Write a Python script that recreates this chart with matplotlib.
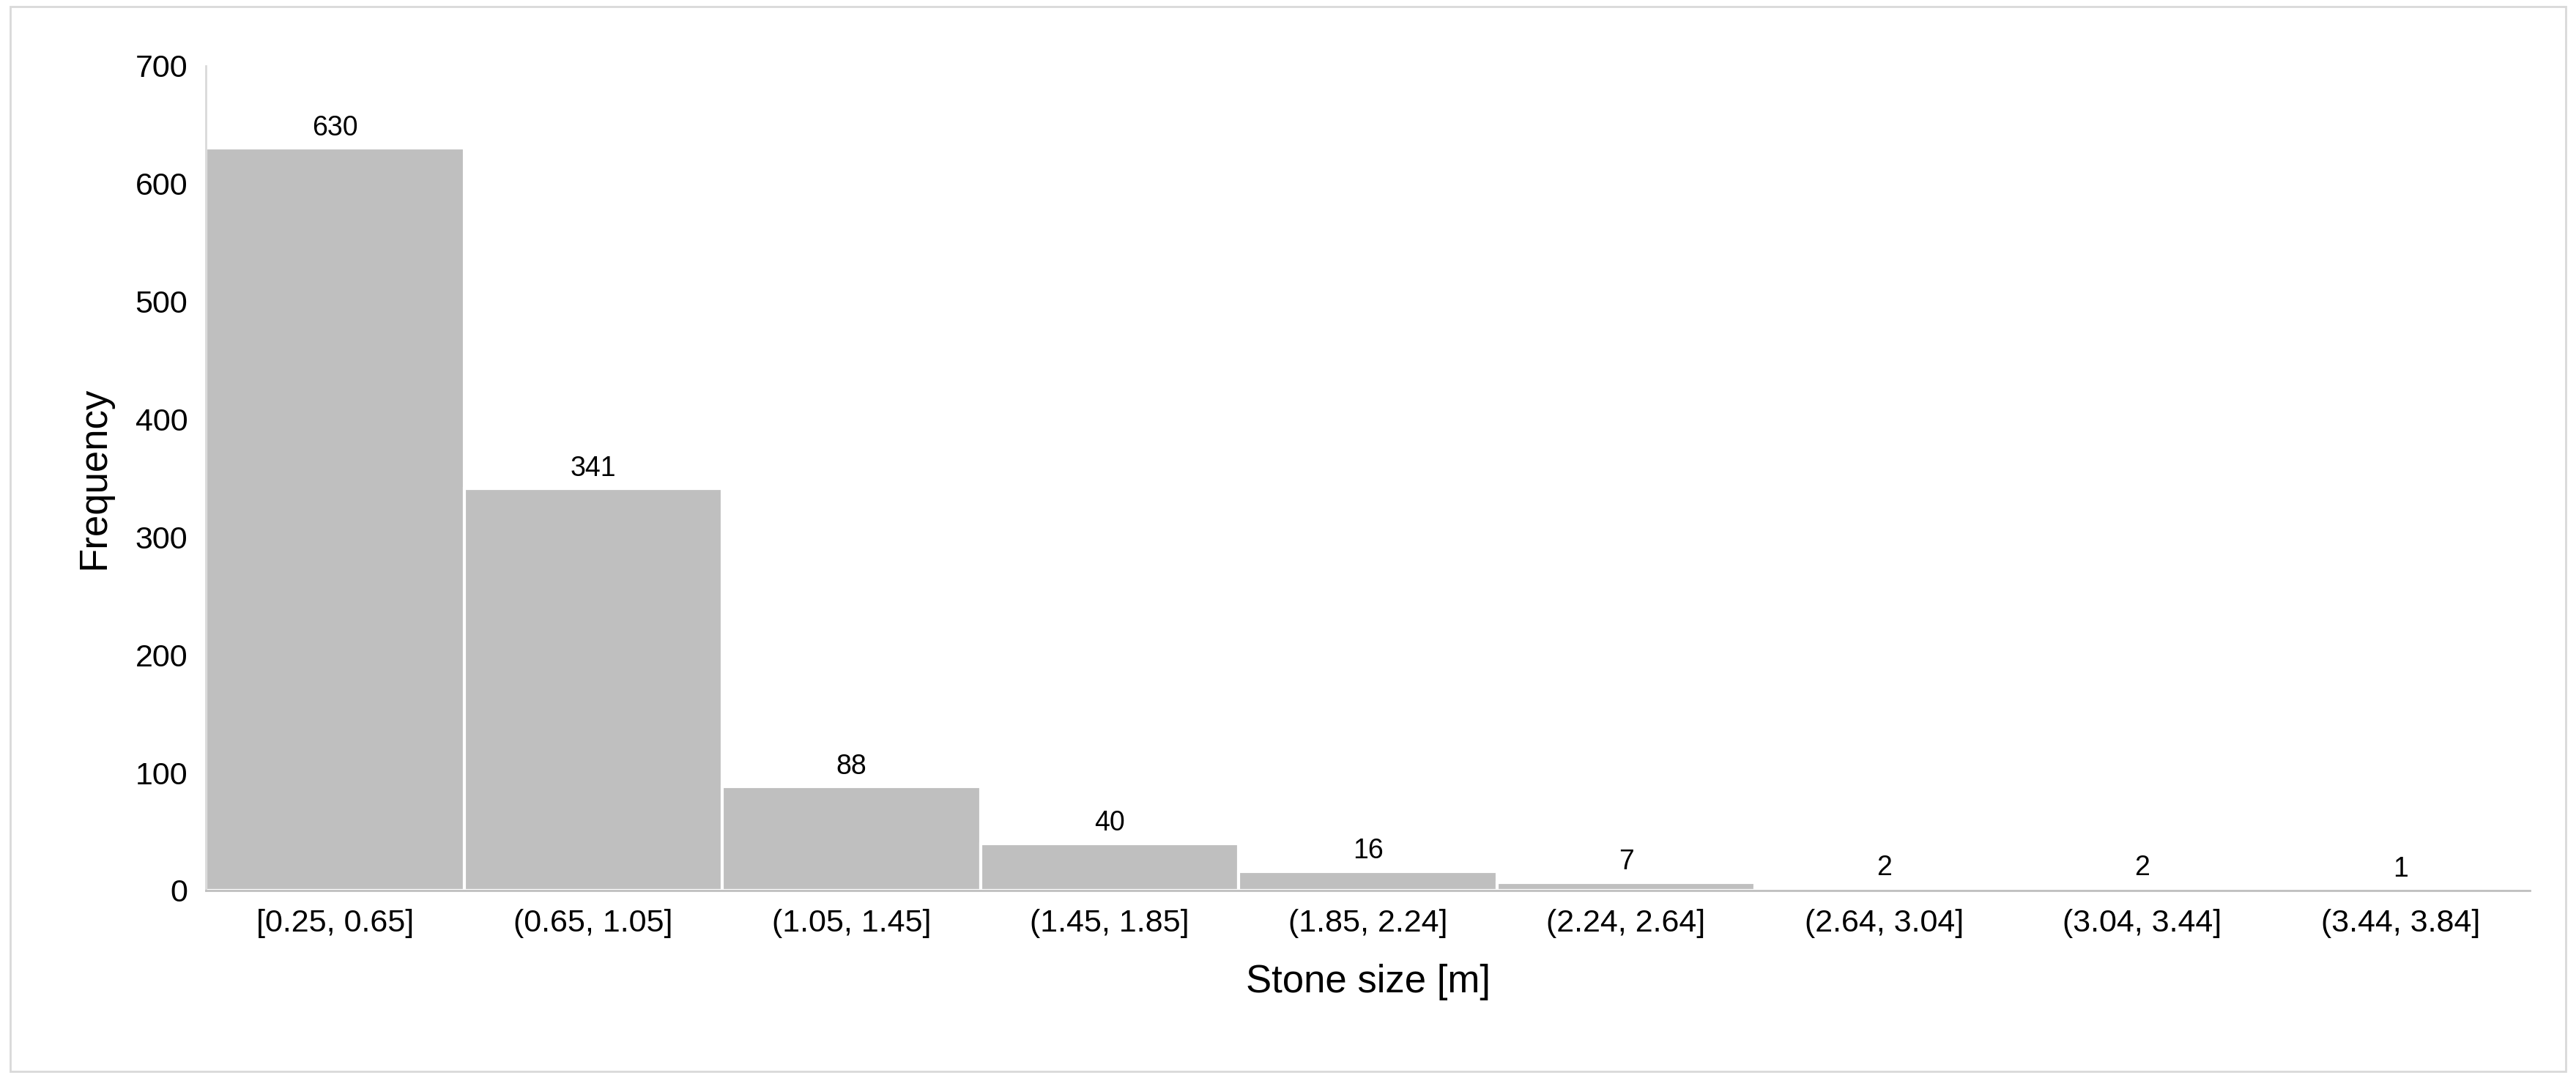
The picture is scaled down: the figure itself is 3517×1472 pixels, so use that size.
import matplotlib
matplotlib.use("Agg")
import matplotlib.pyplot as plt
from matplotlib.patches import Rectangle

categories = ["[0.25, 0.65]", "(0.65, 1.05]", "(1.05, 1.45]", "(1.45, 1.85]", "(1.85, 2.24]",
              "(2.24, 2.64]", "(2.64, 3.04]", "(3.04, 3.44]", "(3.44, 3.84]"]
values = [630, 341, 88, 40, 16, 7, 2, 2, 1]

plt.rcParams['font.family'] = ['Liberation Sans', 'DejaVu Sans']
fig = plt.figure(figsize=(35.17, 14.72), dpi=100)
ax = fig.add_axes([0.080, 0.174, 0.902, 0.765])
x = range(len(values))
bars = ax.bar(x, values, width=1.0, color='#bfbfbf', edgecolor='white', linewidth=3)
for xi, v in zip(x, values):
    ax.text(xi, v + 6, str(v), ha='center', va='bottom', fontsize=27)
ax.set_xlim(-0.5, len(values) - 0.5)
ax.set_ylim(0, 700)
ax.set_yticks(range(0, 701, 100))
ax.set_xticks(list(x))
ax.set_xticklabels(categories)
ax.tick_params(axis='both', labelsize=31, length=0, pad=18)
for s in ['top', 'right']:
    ax.spines[s].set_visible(False)
ax.spines['left'].set_color('#d9d9d9')
ax.spines['left'].set_linewidth(2)
ax.spines['bottom'].set_color('#bfbfbf')
ax.spines['bottom'].set_linewidth(2)
ax.set_ylabel("Frequency", fontsize=38, labelpad=22)
ax.set_xlabel("Stone size [m]", fontsize=38, labelpad=25)
fig.patches.append(Rectangle((0.004, 0.006), 0.992, 0.988, transform=fig.transFigure,
                             fill=False, edgecolor='#d9d9d9', linewidth=2))
fig.savefig("out.png", dpi=100)
